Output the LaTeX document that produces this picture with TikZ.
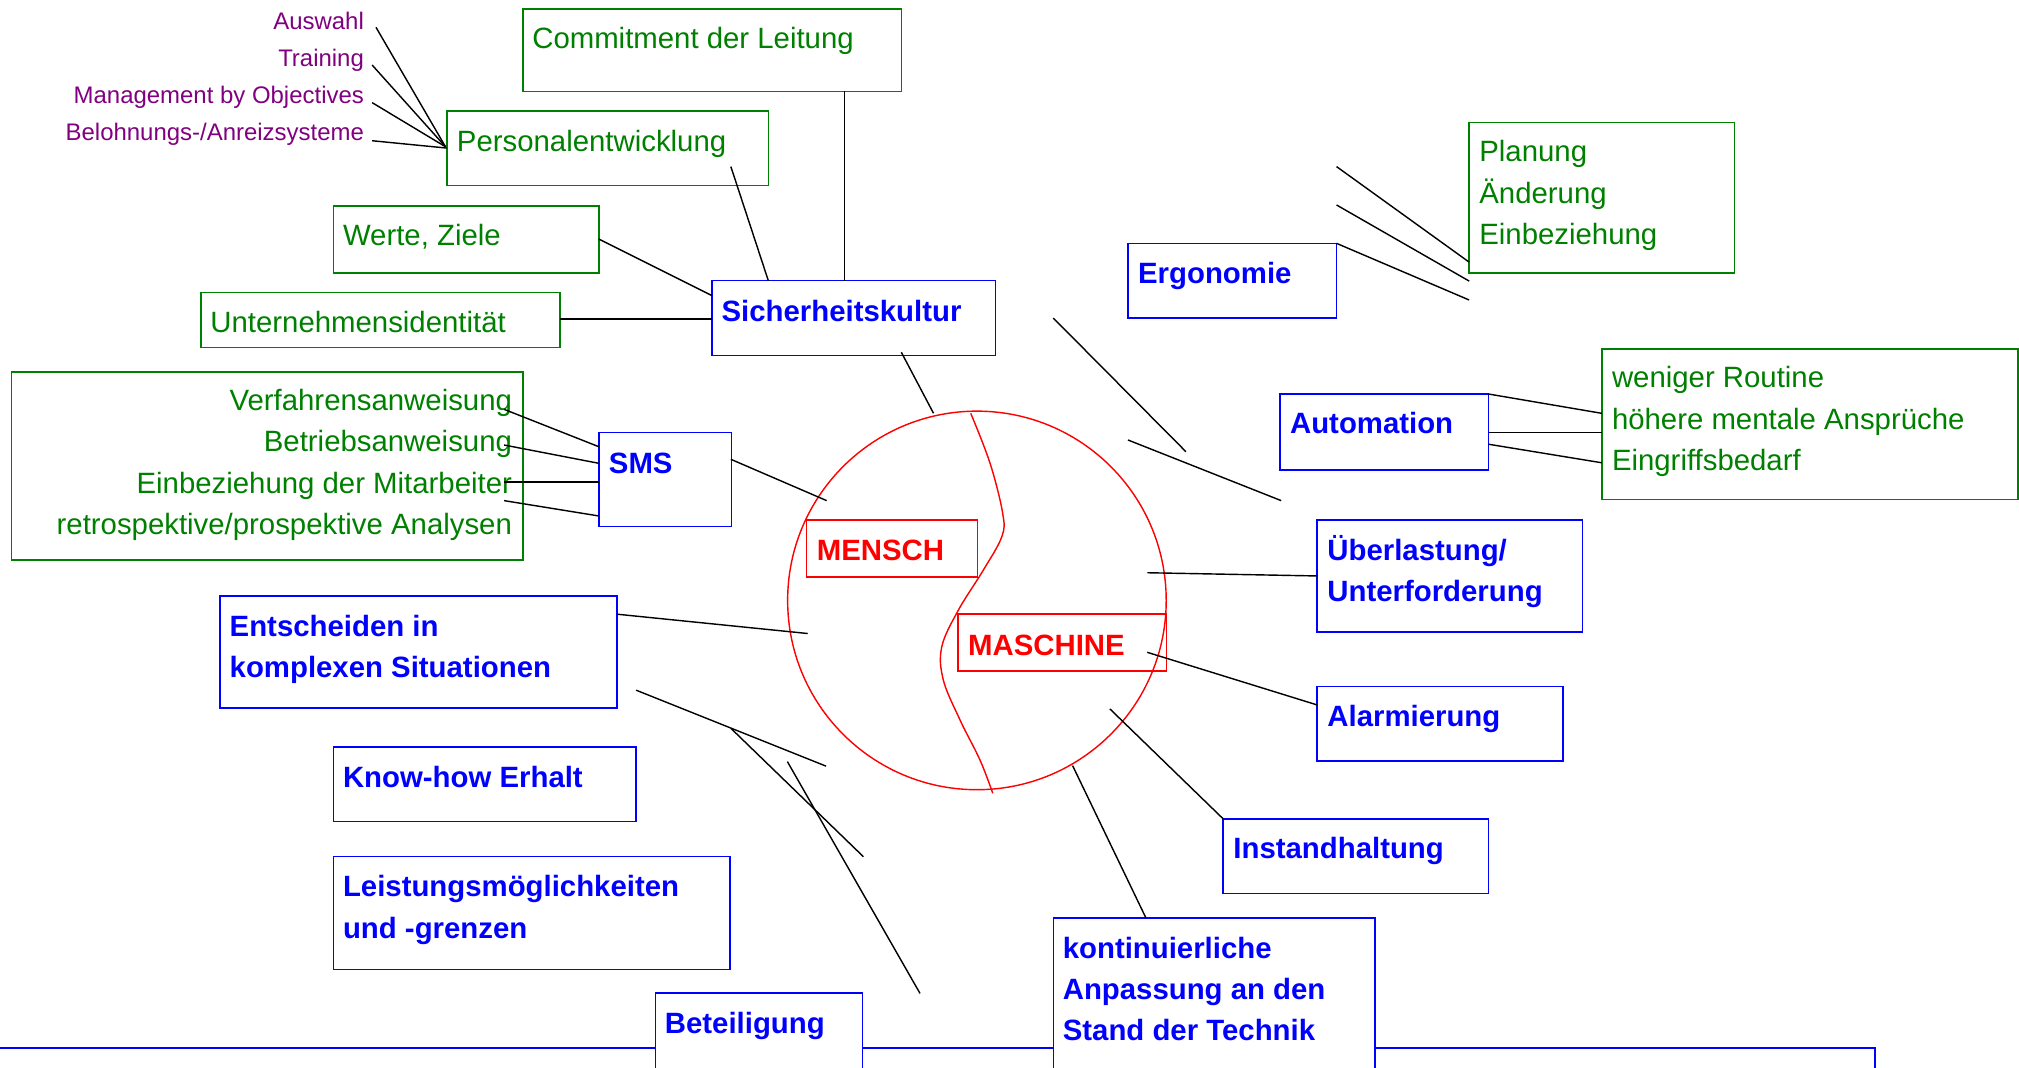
\documentclass[tikz,border=0pt]{standalone}
\usepackage{fontspec}
\setmainfont{Liberation Sans}
\definecolor{grn}{RGB}{0,128,0}
\definecolor{blu}{RGB}{0,0,255}
\definecolor{rd}{RGB}{255,0,0}
\definecolor{purp}{RGB}{128,0,128}
\tikzset{
  boxbase/.style={rectangle, inner sep=0pt, outer sep=0pt},
  gbox/.style={boxbase, draw=grn, line width=0.6pt, fill=white},
  bbox/.style={boxbase, draw=blu, line width=0.6pt, fill=white},
  rbox/.style={boxbase, draw=rd, line width=0.55pt},
  framebox/.style={boxbase, draw=blu, line width=0.85pt, fill=white},
  gtxt/.style={text=grn, font=\fontsize{11.4}{16}\selectfont, inner sep=0pt, anchor=base west},
  gtxtr/.style={gtxt, anchor=base east},
  btxt/.style={text=blu, font=\bfseries\fontsize{11.4}{16}\selectfont, inner sep=0pt, anchor=base west},
  rtxt/.style={text=rd, font=\bfseries\fontsize{11.4}{16}\selectfont, inner sep=0pt, anchor=base west},
  ptxt/.style={text=purp, font=\fontsize{9.3}{12}\selectfont, inner sep=0pt, anchor=base east},
  conn/.style={draw=black, line width=0.55pt},
  redline/.style={draw=rd, line width=0.55pt},
}
% name, style, x1, y1, x2, y2
\newcommand{\abox}[6]{\node[#2, minimum width={(#5-(#3))*0.5pt}, minimum height={(#6-(#4))*0.5pt}] (#1) at ({(#3+#5)/2},{(#4+#6)/2}) {};}
\begin{document}
\begin{tikzpicture}[x=0.5pt, y=-0.5pt]
\useasboundingbox (0,0) rectangle (1568,829);
\clip (0,0) rectangle (1568,829);

% big frame at the bottom
\abox{frame}{framebox}{-20}{814}{1456}{900}

% centre circle
\node[circle, draw=rd, line width=0.55pt, minimum size=147pt, inner sep=0pt, outer sep=0pt] (circ) at (758.7,466.3) {};
\draw[redline] plot[smooth, tension=0.6] coordinates {(753.9,321) (768.9,359.8) (778.7,398.7) (778,416.8) (763.7,442.7) (744.3,473.8) (731.4,502.3) (732.6,528.1) (745.6,559.2) (761.1,590.3) (771,616.1)};
\abox{mensch}{rbox}{626.5}{404}{759}{448}
\node[rtxt] (mensch-t) at (634,435) {MENSCH};
\abox{masch}{rbox}{744}{477}{906}{521}
\node[rtxt] (masch-t) at (751.5,508.7) {MASCHINE};

% green boxes
\abox{comm}{gbox}{406}{7}{700}{71}
\node[gtxt] (comm-t) at (413,37.5) {Commitment der Leitung};
\abox{pers}{gbox}{347}{86}{597}{144}
\node[gtxt] (pers-t) at (354.5,117.5) {Personalentwicklung};
\abox{werte}{gbox}{259}{160}{465}{212}
\node[gtxt] (werte-t) at (266,191) {Werte, Ziele};
\abox{unter}{gbox}{156}{227}{435}{270}
\node[gtxt] (unter-t) at (163,258) {Unternehmensidentität};
\abox{smsl}{gbox}{9}{289}{406}{435}
\node[gtxtr] (smsl-t1) at (398,319) {Verfahrensanweisung};
\node[gtxtr] (smsl-t2) at (398,351) {Betriebsanweisung};
\node[gtxtr] (smsl-t3) at (398,383) {Einbeziehung der Mitarbeiter};
\node[gtxtr] (smsl-t4) at (398,415) {retrospektive/prospektive Analysen};
\abox{plan}{gbox}{1141}{95}{1347}{212}
\node[gtxt] (plan-t1) at (1148.5,125.5) {Planung};
\node[gtxt] (plan-t2) at (1148.5,158) {Änderung};
\node[gtxt] (plan-t3) at (1148.5,190) {Einbeziehung};
\abox{wenig}{gbox}{1244}{271}{1567}{388}
\node[gtxt] (wenig-t1) at (1251.5,301) {weniger Routine};
\node[gtxt] (wenig-t2) at (1251.5,333.5) {höhere mentale Ansprüche};
\node[gtxt] (wenig-t3) at (1251.5,365.5) {Eingriffsbedarf};

% purple items
\node[ptxt] (p1) at (283,23) {Auswahl};
\node[ptxt] (p2) at (283,52) {Training};
\node[ptxt] (p3) at (283,80.5) {Management by Objectives};
\node[ptxt] (p4) at (283,109.5) {Belohnungs-/Anreizsysteme};

% blue boxes
\abox{sk}{bbox}{553}{218}{773}{276}
\node[btxt] (sk-t) at (560,249.5) {Sicherheitskultur};
\abox{sms}{bbox}{465}{336}{568}{409}
\node[btxt] (sms-t) at (472.5,367.5) {SMS};
\abox{ergo}{bbox}{876}{189}{1038}{247}
\node[btxt] (ergo-t) at (883.5,220) {Ergonomie};
\abox{auto}{bbox}{994}{306}{1156}{365}
\node[btxt] (auto-t) at (1001.5,337) {Automation};
\abox{ueber}{bbox}{1023}{404}{1229}{491}
\node[btxt] (ueber-t1) at (1030.5,435) {Überlastung/};
\node[btxt] (ueber-t2) at (1030.5,467) {Unterforderung};
\abox{ent}{bbox}{171}{463}{479}{550}
\node[btxt] (ent-t1) at (178,494) {Entscheiden in};
\node[btxt] (ent-t2) at (178,526) {komplexen Situationen};
\abox{alarm}{bbox}{1023}{533}{1214}{591}
\node[btxt] (alarm-t) at (1030.5,564.5) {Alarmierung};
\abox{know}{bbox}{259}{580}{494}{638}
\node[btxt] (know-t) at (266,611.5) {Know-how Erhalt};
\abox{inst}{bbox}{950}{636}{1156}{694}
\node[btxt] (inst-t) at (957.5,667) {Instandhaltung};
\abox{leist}{bbox}{259}{665}{567}{753}
\node[btxt] (leist-t1) at (266,696.5) {Leistungsmöglichkeiten};
\node[btxt] (leist-t2) at (266,728.5) {und -grenzen};
\abox{kont}{bbox}{818}{713}{1068}{900}
\node[btxt] (kont-t1) at (825,744) {kontinuierliche};
\node[btxt] (kont-t2) at (825,776) {Anpassung an den};
\node[btxt] (kont-t3) at (825,808) {Stand der Technik};
\abox{bet}{bbox}{509}{771}{670}{900}
\node[btxt] (bet-t) at (516,802.5) {Beteiligung};

% connector end points
\coordinate (pj) at (346,114);
\coordinate (pj4) at (347,115);
\coordinate (a1) at (292,21.2);
\coordinate (a2) at (289,50.5);
\coordinate (a3) at (289,79.7);
\coordinate (a4) at (289,109.3);
\coordinate (pe1) at (567.6,129.4);
\coordinate (sk1) at (596.7,218);
\coordinate (cm1) at (655.8,71);
\coordinate (sk2) at (655.8,218);
\coordinate (we1) at (465,185.6);
\coordinate (sk3) at (553,229.6);
\coordinate (un1) at (435,247.7);
\coordinate (sk4) at (553,247.7);
\coordinate (sk5) at (700,273.6);
\coordinate (ci1) at (725,321);
\coordinate (l1a) at (391.5,317.9);
\coordinate (l1b) at (465,346.9);
\coordinate (l2a) at (391.5,345.6);
\coordinate (l2b) at (465,359.8);
\coordinate (l3a) at (391.5,374.3);
\coordinate (l3b) at (465,374.3);
\coordinate (l4a) at (391.5,388.8);
\coordinate (l4b) at (465,400.7);
\coordinate (sm1) at (567.6,356.7);
\coordinate (ci2) at (642,388.8);
\coordinate (en1) at (479.2,477);
\coordinate (ci3) at (627.3,492);
\coordinate (la1) at (494,536);
\coordinate (la2) at (641.5,595);
\coordinate (lb1) at (567.7,565.7);
\coordinate (lb2) at (670.5,665.3);
\coordinate (lc1) at (611.5,591.5);
\coordinate (lc2) at (714.5,771.5);
\coordinate (d1a) at (818,247);
\coordinate (d1b) at (921,350.8);
\coordinate (d2a) at (876,341.7);
\coordinate (d2b) at (995,388.8);
\coordinate (e1a) at (1038,129.4);
\coordinate (e1b) at (1141,203.6);
\coordinate (e2a) at (1038,159.2);
\coordinate (e2b) at (1141,218.3);
\coordinate (e3a) at (1038,189);
\coordinate (e3b) at (1141,233);
\coordinate (au1a) at (1156,306);
\coordinate (au1b) at (1244,321);
\coordinate (au2a) at (1156,335.7);
\coordinate (au2b) at (1244,335.7);
\coordinate (au3a) at (1156,345);
\coordinate (au3b) at (1244,359.4);
\coordinate (ue1) at (891,444.8);
\coordinate (ue2) at (1023,447.3);
\coordinate (al1) at (891,506.6);
\coordinate (al2) at (1023,547.5);
\coordinate (in1) at (862,550.6);
\coordinate (in2) at (950,636);
\coordinate (ko1) at (833,594.6);
\coordinate (ko2) at (890,713);

% connectors
\draw[conn] (a1) -- (pj);
\draw[conn] (a2) -- (pj);
\draw[conn] (a3) -- (pj);
\draw[conn] (a4) -- (pj4);
\draw[conn] (pe1) -- (sk1);
\draw[conn] (cm1) -- (sk2);
\draw[conn] (we1) -- (sk3);
\draw[conn] (un1) -- (sk4);
\draw[conn] (sk5) -- (ci1);
\draw[conn] (l1a) -- (l1b);
\draw[conn] (l2a) -- (l2b);
\draw[conn] (l3a) -- (l3b);
\draw[conn] (l4a) -- (l4b);
\draw[conn] (sm1) -- (ci2);
\draw[conn] (en1) -- (ci3);
\draw[conn] (la1) -- (la2);
\draw[conn] (lb1) -- (lb2);
\draw[conn] (lc1) -- (lc2);
\draw[conn] (d1a) -- (d1b);
\draw[conn] (d2a) -- (d2b);
\draw[conn] (e1a) -- (e1b);
\draw[conn] (e2a) -- (e2b);
\draw[conn] (e3a) -- (e3b);
\draw[conn] (au1a) -- (au1b);
\draw[conn] (au2a) -- (au2b);
\draw[conn] (au3a) -- (au3b);
\draw[conn] (ue1) -- (ue2);
\draw[conn] (al1) -- (al2);
\draw[conn] (in1) -- (in2);
\draw[conn] (ko1) -- (ko2);
\end{tikzpicture}
\end{document}
